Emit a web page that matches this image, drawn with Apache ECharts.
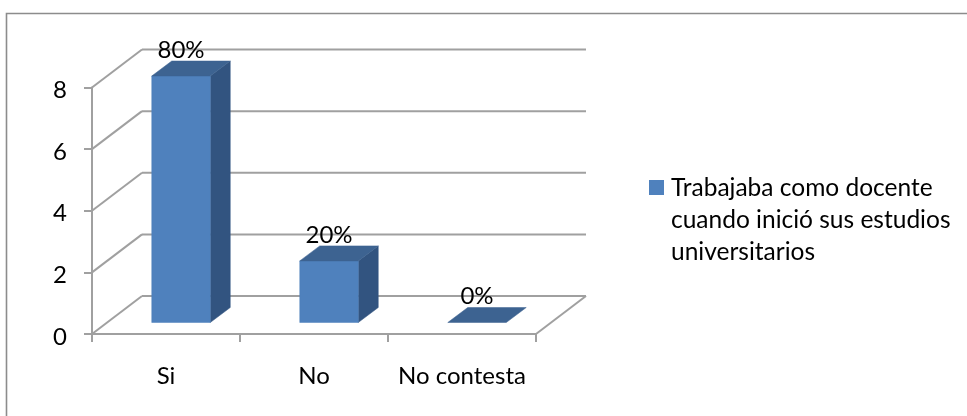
<!DOCTYPE html>
<html><head><meta charset="utf-8">
<script src="https://cdn.jsdelivr.net/npm/echarts@6/dist/echarts.min.js"></script>
<style>html,body{margin:0;padding:0;background:#fff}#c{width:967px;height:416px}</style>
</head><body><div id="c"></div>
<script>
const categories = ['Si', 'No', 'No contesta'];
const values = [8, 2, 0];
const percentLabels = ['80%', '20%', '0%'];
const yTicks = [0, 2, 4, 6, 8];
const seriesName = 'Trabajaba como docente\ncuando inició sus estudios\nuniversitarios';

const FONT = 'Lato';
const GRID = '#a0a0a0';
const LW = 2;
const DX = 50, DY = -38;
const chart = echarts.init(document.getElementById('c'), null, {renderer: 'canvas'});

function poly(points, fill) {
  return {type: 'polygon', shape: {points}, style: {fill, stroke: fill, lineWidth: 0.5}};
}
function line(x1, y1, x2, y2) {
  return {type: 'line', shape: {x1, y1, x2, y2}, style: {stroke: GRID, lineWidth: LW, fill: null}};
}

chart.setOption({
  animation: false,
  backgroundColor: '#fff',
  graphic: [{type: 'polyline', shape: {points: [[6.5, 416], [6.5, 13.5], [967, 13.5]]},
    style: {fill: null, stroke: '#8c8c8c', lineWidth: 1.6}, silent: true}],
  grid: {left: 92, top: 87.5, width: 444, height: 246.5},
  legend: {
    left: 649, top: 172, orient: 'vertical', padding: 0,
    data: [{name: seriesName}],
    icon: 'path://M0 8H15V23H0Z M17 0L17 0Z M17 96L17 96Z',
    itemWidth: 17, itemHeight: 96, itemGap: 0,
    textStyle: {fontFamily: FONT, fontSize: 24.5, color: '#000', lineHeight: 32, padding: 0}
  },
  xAxis: {
    type: 'category', data: categories,
    axisLine: {lineStyle: {color: GRID, width: LW}},
    axisTick: {show: true, interval: 0, alignWithLabel: false, length: 8, lineStyle: {color: GRID, width: LW}},
    axisLabel: {interval: 0, fontFamily: FONT, fontSize: 24, color: '#000', margin: 30},
    splitLine: {show: false}
  },
  yAxis: {
    type: 'value', min: 0, max: 8, interval: 2,
    axisLine: {show: true, lineStyle: {color: GRID, width: LW}},
    axisTick: {show: true, length: 8, lineStyle: {color: GRID, width: LW}},
    axisLabel: {fontFamily: FONT, fontSize: 24, color: '#000', margin: 25, verticalAlign: 'top', lineHeight: 6},
    splitLine: {show: false}
  },
  series: [
    {
      type: 'custom', name: 'paredes', coordinateSystem: 'cartesian2d', z: 1, silent: true,
      data: yTicks.map(v => [0, v]), encode: {x: 0, y: 1},
      renderItem(params, api) {
        const cs = params.coordSys;
        const y = api.coord([0, api.value(1)])[1];
        const kids = [
          line(cs.x, y, cs.x + DX, y + DY),
          line(cs.x + DX, y + DY, cs.x + cs.width + DX, y + DY)
        ];
        if (api.value(1) === 0) kids.push(line(cs.x + cs.width, y, cs.x + cs.width + DX, y + DY));
        return {type: 'group', children: kids};
      }
    },
    {
      type: 'custom', name: seriesName, coordinateSystem: 'cartesian2d', z: 2,
      itemStyle: {color: '#4F81BD'},
      data: values.map((v, i) => [i, v]), encode: {x: 0, y: 1},
      renderItem(params, api) {
        const i = api.value(0), v = api.value(1);
        const c = api.coord([i, v]), base = api.coord([i, 0]);
        const w = 58.5, cx = c[0];
        const x0 = cx - w / 2 + 15, x1 = x0 + w;
        const yT = c[1] - 11.5, yB = base[1] - 11.5;
        const ox = 20, oy = -15;
        const kids = [];
        if (v > 0) {
          kids.push(poly([[x1, yT], [x1 + ox, yT + oy], [x1 + ox, yB + oy], [x1, yB]], '#325480'));
          kids.push(poly([[x0, yT], [x1, yT], [x1, yB], [x0, yB]], '#4F81BD'));
        }
        kids.push(poly([[x0, yT], [x0 + ox, yT + oy], [x1 + ox, yT + oy], [x1, yT]], '#3D6391'));
        kids.push({type: 'text', z2: 10, style: {
          text: percentLabels[i], x: x0 + w / 2, y: yT + oy - 11,
          align: 'center', verticalAlign: 'middle',
          fontFamily: FONT, fontSize: 24, fill: '#000'
        }});
        return {type: 'group', children: kids};
      }
    }
  ]
});
</script></body></html>
